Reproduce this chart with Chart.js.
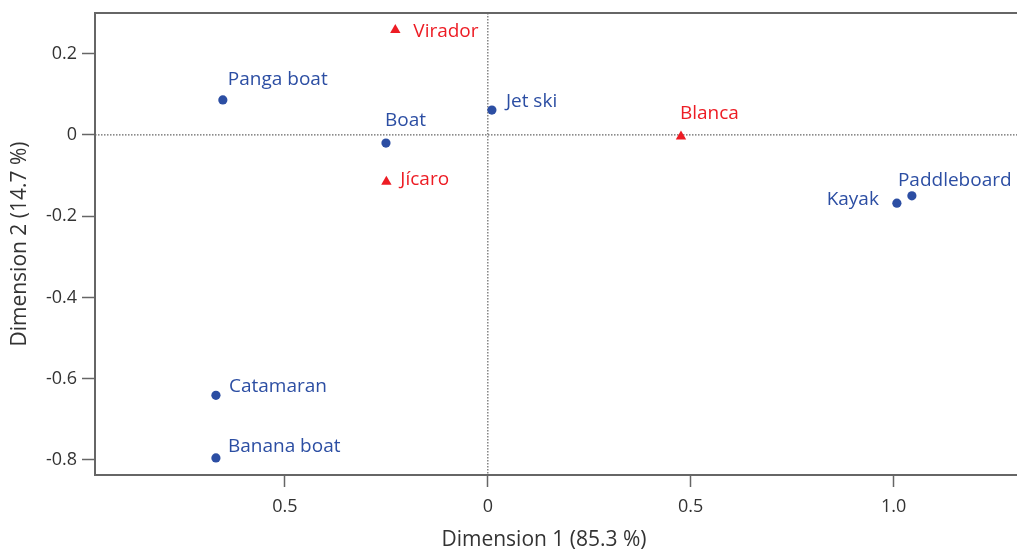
<!DOCTYPE html>
<html>
<head>
<meta charset="utf-8">
<script src="https://cdn.jsdelivr.net/npm/chart.js@4"></script>
<style>
  body { margin: 0; background: #fff; overflow: hidden; }
  #wrap { width: 1017px; height: 551px; position: relative; }
</style>
</head>
<body>
<div id="wrap"><canvas id="caChart"></canvas></div>
<script>
// data
var boatNames = ['Panga boat', 'Boat', 'Jet ski', 'Catamaran', 'Banana boat', 'Kayak', 'Paddleboard'];
var boatDim1 = [-0.653, -0.251, 0.010, -0.670, -0.670, 1.008, 1.045];
var boatDim2 = [0.086, -0.020, 0.061, -0.641, -0.795, -0.168, -0.150];

var siteNames = ['Virador', 'Jícaro', 'Blanca'];
var siteDim1 = [-0.228, -0.250, 0.476];
var siteDim2 = [0.258, -0.115, -0.004];

var xTickValues = [-0.5, 0, 0.5, 1.0];
var xTickLabels = ['0.5', '0', '0.5', '1.0'];
var yTickValues = [0.2, 0, -0.2, -0.4, -0.6, -0.8];
var yTickLabels = ['0.2', '0', '-0.2', '-0.4', '-0.6', '-0.8'];

// label placement next to each mark: [dx, dy to baseline, align]
var boatLabelPos = [[5, -15, 'left'], [-1, -16.6, 'left'], [14, -3, 'left'], [13, -3.7, 'left'],
                    [12, -6.4, 'left'], [-18, 1.7, 'right'], [-14, -10, 'left']];
var siteLabelPos = [[18, 7.3, 'left'], [14, 3.7, 'left'], [-1, -17.4, 'left']];

var BLUE = '#2c4ea3';
var RED = '#ed1c24';
var AXIS = '#666666';
var TEXT = '#333333';

function toPoints(xs, ys) {
  return xs.map(function (x, i) { return { x: x, y: ys[i] }; });
}

var labelsPlugin = {
  id: 'pointLabels',
  beforeDatasetsDraw: function (chart) {
    var ctx = chart.ctx, a = chart.chartArea;
    var x0 = chart.scales.x.getPixelForValue(0);
    var y0 = chart.scales.y.getPixelForValue(0);
    ctx.save();
    ctx.strokeStyle = AXIS;
    ctx.lineWidth = 1.2;
    ctx.setLineDash([1.5, 1.5]);
    ctx.beginPath();
    ctx.moveTo(x0, a.top);
    ctx.lineTo(x0, a.bottom);
    ctx.moveTo(a.left, y0);
    ctx.lineTo(a.right, y0);
    ctx.stroke();
    ctx.restore();
  },
  afterDatasetsDraw: function (chart) {
    var ctx = chart.ctx, a = chart.chartArea;
    ctx.save();
    // top frame line
    ctx.strokeStyle = AXIS;
    ctx.lineWidth = 2;
    ctx.beginPath();
    ctx.moveTo(a.left, a.top);
    ctx.lineTo(a.right, a.top);
    ctx.stroke();

    ctx.font = '19px "Open Sans"';
    ctx.textBaseline = 'alphabetic';
    var sets = [[boatNames, boatLabelPos, BLUE], [siteNames, siteLabelPos, RED]];
    sets.forEach(function (s, di) {
      var meta = chart.getDatasetMeta(di);
      ctx.fillStyle = s[2];
      meta.data.forEach(function (pt, i) {
        var p = s[1][i];
        ctx.textAlign = p[2];
        ctx.fillText(s[0][i], pt.x + p[0], pt.y + p[1]);
      });
    });

    // axis titles
    ctx.fillStyle = TEXT;
    ctx.font = '21px "Open Sans"';
    ctx.textAlign = 'center';
    ctx.textBaseline = 'middle';
    ctx.fillText('Dimension 1 (85.3 %)', 544, 540);
    ctx.translate(20, 244);
    ctx.rotate(-Math.PI / 2);
    ctx.fillText('Dimension 2 (14.7 %)', 0, 0);
    ctx.restore();
  }
};

new Chart(document.getElementById('caChart'), {
  type: 'scatter',
  data: {
    datasets: [
      {
        label: 'Boats',
        data: toPoints(boatDim1, boatDim2),
        pointStyle: 'circle',
        pointRadius: 4.6,
        backgroundColor: BLUE,
        borderColor: BLUE,
        borderWidth: 0
      },
      {
        label: 'Sites',
        data: toPoints(siteDim1, siteDim2),
        pointStyle: 'triangle',
        pointRadius: 6,
        backgroundColor: RED,
        borderColor: RED,
        borderWidth: 0
      }
    ]
  },
  options: {
    responsive: true,
    maintainAspectRatio: false,
    animation: false,
    layout: { autoPadding: false, padding: { top: 13, right: 0, left: 0, bottom: 0 } },
    plugins: {
      legend: { display: false },
      tooltip: { enabled: false }
    },
    scales: {
      x: {
        type: 'linear',
        min: -0.968,
        max: 1.304,
        afterFit: function (scale) {
          scale.height = 76;
          scale.paddingLeft = 0;
          scale.paddingRight = 0;
        },
        afterBuildTicks: function (scale) {
          scale.ticks = xTickValues.map(function (v) { return { value: v }; });
        },
        ticks: {
          color: TEXT,
          font: { family: 'Open Sans', size: 18 },
          padding: 9,
          maxRotation: 0,
          callback: function (v, i) { return xTickLabels[i]; }
        },
        grid: {
          drawOnChartArea: false,
          drawTicks: true,
          tickLength: 12,
          tickColor: AXIS,
          tickWidth: 1.5
        },
        border: { color: AXIS, width: 2 }
      },
      y: {
        type: 'linear',
        min: -0.837,
        max: 0.300,
        afterFit: function (scale) {
          scale.width = 95;
          scale.paddingTop = 0;
          scale.paddingBottom = 0;
        },
        afterBuildTicks: function (scale) {
          scale.ticks = yTickValues.map(function (v) { return { value: v }; });
        },
        ticks: {
          color: TEXT,
          font: { family: 'Open Sans', size: 18 },
          padding: 5,
          callback: function (v, i) { return yTickLabels[i]; }
        },
        grid: {
          drawOnChartArea: false,
          drawTicks: true,
          tickLength: 13,
          tickColor: AXIS,
          tickWidth: 1.5
        },
        border: { color: AXIS, width: 2 }
      }
    }
  },
  plugins: [labelsPlugin]
});
</script>
</body>
</html>
